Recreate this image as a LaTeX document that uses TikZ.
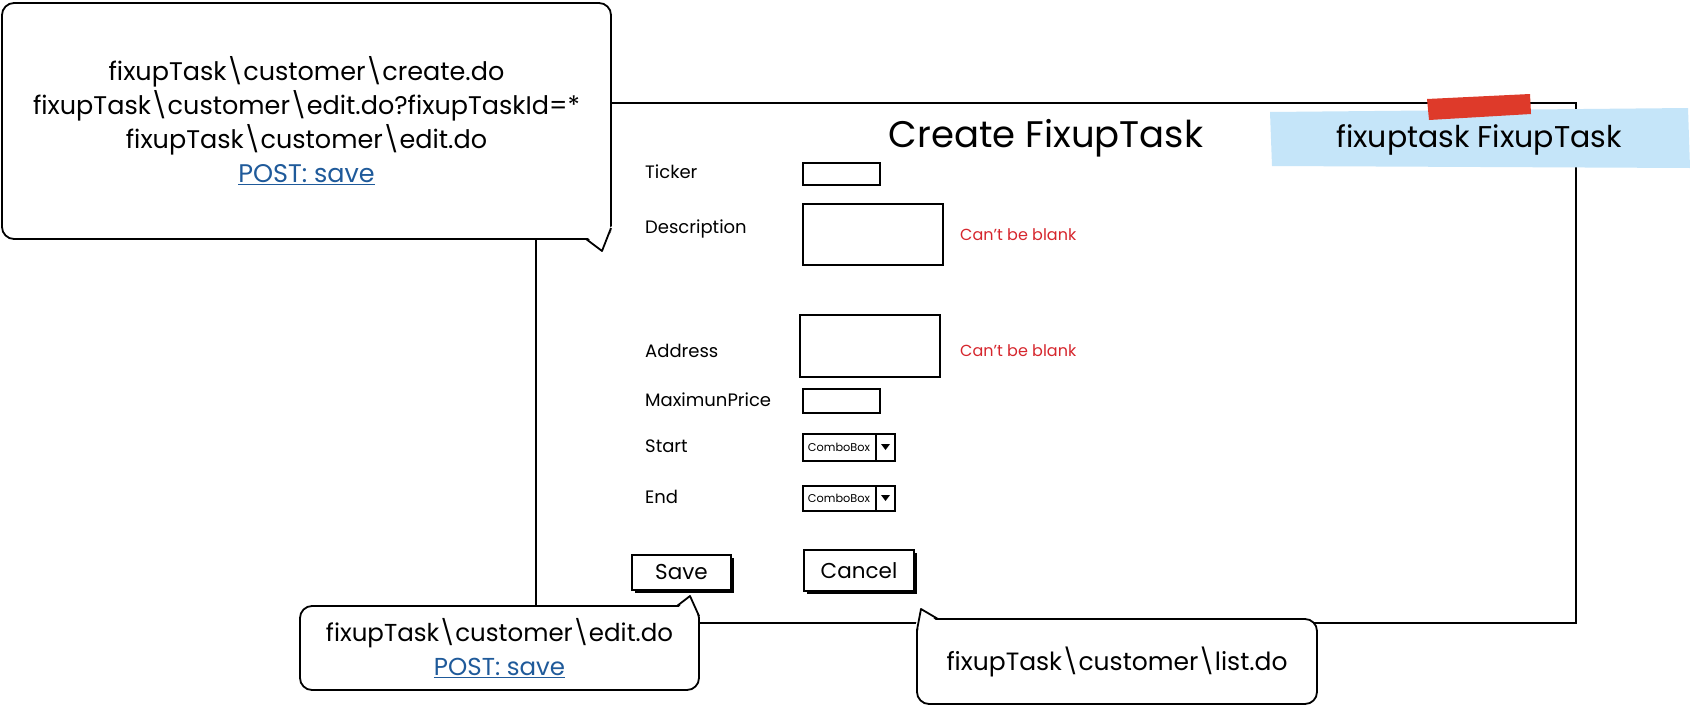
\documentclass[tikz,border=0pt]{standalone}
\usepackage{fontspec}
\setmainfont{Poppins}
\usetikzlibrary{shadows}
\definecolor{linkblue}{RGB}{31,90,154}
\definecolor{errred}{RGB}{214,38,45}
\definecolor{noteblue}{RGB}{197,229,249}
\definecolor{tapered}{RGB}{222,58,42}

\begin{document}
\begin{tikzpicture}[x=1pt, y=-1pt,
    callout/.style={draw, line width=1.8pt, rounded corners=12pt, fill=white, align=center, inner sep=0pt},
    field/.style={draw, line width=1.8pt, fill=white, inner sep=0pt},
    button/.style={draw, line width=1.8pt, fill=white, inner sep=0pt, font=\fontsize{21.5}{25}\selectfont,
        drop shadow={shadow xshift=3pt, shadow yshift=-3pt, opacity=1, fill=black}},
    flabel/.style={anchor=west, inner sep=0pt, font=\fontsize{18}{21}\selectfont},
    errtext/.style={anchor=west, inner sep=0pt, text=errred, font=\fontsize{16}{19}\selectfont},
    combotext/.style={font=\fontsize{11.3}{13}\selectfont}]
        \useasboundingbox[fill=white] (0,0) rectangle (1690,707);
        % window
        \node[draw, line width=1.8pt, minimum width=1040pt, minimum height=520pt, inner sep=0pt] (window) at (1056,363) {};
        \node[font=\fontsize{37}{42}\selectfont] (title) at (1046,138) {Create FixupTask};
        % sticky note
        \fill[noteblue] (1270,112) -- (1688,108) -- (1690,168) -- (1272,166) -- cycle;
        \fill[tapered] (1427,99) -- (1530,94) -- (1531,114) -- (1429,120) -- cycle;
        \node[font=\fontsize{30}{34}\selectfont] (notetext) at (1479,140) {fixuptask FixupTask};
        % form
        \node[flabel] (ticker) at (645,172) {Ticker};
        \node[flabel] (description) at (645,229) {Description};
        \node[flabel] (address) at (645,351) {Address};
        \node[flabel] (price) at (645,400) {MaximunPrice};
        \node[flabel] (start) at (645,446) {Start};
        \node[flabel] (end) at (645,497) {End};
        \node[field, minimum width=77pt, minimum height=22pt] (tickerbox) at (841.5,174) {};
        \node[field, minimum width=140pt, minimum height=61pt] (descbox) at (873,234.5) {};
        \node[field, minimum width=140pt, minimum height=62pt] (addressbox) at (870,346) {};
        \node[field, minimum width=77pt, minimum height=24pt] (pricebox) at (841.5,401) {};
        \node[errtext] (descerr) at (960,235) {Can't be blank};
        \node[errtext] (addresserr) at (960,351) {Can't be blank};
        \node[field, minimum width=92pt, minimum height=27pt] (startbox) at (849,447.5) {};
        \node[combotext] (starttext) at (839,447.5) {ComboBox};
        \draw[line width=1.4pt] (876,434) -- (876,461);
        \fill (881,444) -- (890,444) -- (885.5,450) -- cycle;
        \node[field, minimum width=92pt, minimum height=25pt] (endbox) at (849,498.5) {};
        \node[combotext] (endtext) at (839,498.5) {ComboBox};
        \draw[line width=1.4pt] (876,486) -- (876,511);
        \fill (881,495) -- (890,495) -- (885.5,501) -- cycle;
        \node[button, minimum width=99pt, minimum height=35pt] (save) at (681.5,572.5) {Save};
        \node[button, minimum width=110pt, minimum height=41pt] (cancel) at (859,570.5) {Cancel};
        % callouts
        \node[callout, minimum width=609pt, minimum height=236pt, font=\fontsize{25.5}{34}\selectfont] (formurls) at (306.5,121)
            {fixupTask\textbackslash customer\textbackslash create.do\\
             fixupTask\textbackslash customer\textbackslash edit.do?fixupTaskId=*\\
             fixupTask\textbackslash customer\textbackslash edit.do\\
             \textcolor{linkblue}{\underline{POST: save}}};
        \fill[white] (586,236) -- (602,252) -- (613,226) -- cycle;
        \draw[line width=1.8pt, line join=round] (586,239) -- (602,251) -- (611,228);
        \node[callout, minimum width=399pt, minimum height=84pt, font=\fontsize{24.5}{34}\selectfont] (saveurl) at (499.5,648)
            {fixupTask\textbackslash customer\textbackslash edit.do\\
             \textcolor{linkblue}{\underline{POST: save}}};
        \fill[white] (677,609) -- (690,595) -- (701,615) -- cycle;
        \draw[line width=1.8pt, line join=round] (677,606) -- (690,596) -- (699,616);
        \node[callout, minimum width=400pt, minimum height=85pt, font=\fontsize{25}{30}\selectfont] (cancelurl) at (1117,661.5)
            {fixupTask\textbackslash customer\textbackslash list.do};
        \fill[white] (914,630) -- (921,608) -- (938,622) -- cycle;
        \draw[line width=1.8pt, line join=round] (917,630) -- (921,609) -- (938,619);
    \end{tikzpicture}
\end{document}
